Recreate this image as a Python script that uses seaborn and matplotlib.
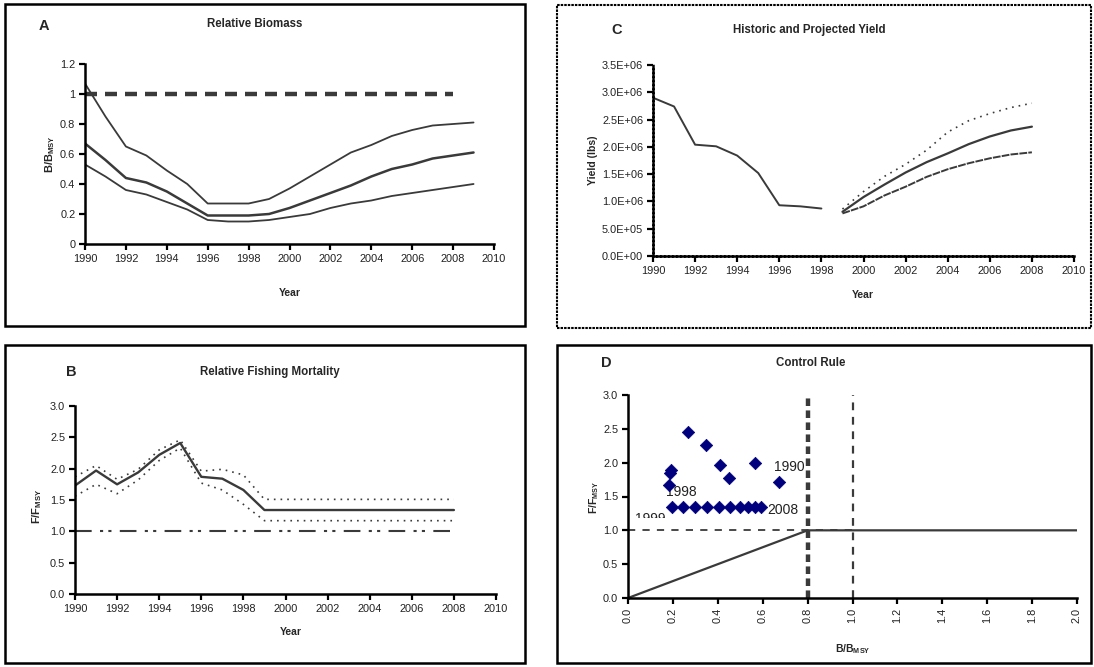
import numpy as np
import pandas as pd
import matplotlib
matplotlib.use("Agg")
import matplotlib.pyplot as plt
import seaborn as sns
from matplotlib.patches import Rectangle
from matplotlib.ticker import FuncFormatter, MultipleLocator

# ---------------- data ----------------
years_a = list(range(1990, 2010))
biomass_upper = [1.07, 0.85, 0.65, 0.59, 0.49, 0.40, 0.27, 0.27, 0.27, 0.30,
                 0.37, 0.45, 0.53, 0.61, 0.66, 0.72, 0.76, 0.79, 0.80, 0.81]
biomass_mid = [0.67, 0.56, 0.44, 0.41, 0.35, 0.27, 0.19, 0.19, 0.19, 0.20,
               0.24, 0.29, 0.34, 0.39, 0.45, 0.50, 0.53, 0.57, 0.59, 0.61]
biomass_lower = [0.53, 0.45, 0.36, 0.33, 0.28, 0.23, 0.16, 0.15, 0.15, 0.16,
                 0.18, 0.20, 0.24, 0.27, 0.29, 0.32, 0.34, 0.36, 0.38, 0.40]
bmsy_ref_years = [1990, 2008]
bmsy_ref = [1.0, 1.0]

years_b = list(range(1990, 2009))
fmort_mid = [1.73, 1.97, 1.75, 1.94, 2.22, 2.41, 1.87, 1.84, 1.66, 1.34,
             1.34, 1.34, 1.34, 1.34, 1.34, 1.34, 1.34, 1.34, 1.34]
fmort_upper = [1.87, 2.05, 1.83, 1.99, 2.30, 2.46, 1.96, 1.99, 1.90, 1.51,
               1.51, 1.51, 1.51, 1.51, 1.51, 1.51, 1.51, 1.51, 1.51]
fmort_lower = [1.56, 1.75, 1.60, 1.82, 2.13, 2.33, 1.77, 1.66, 1.43, 1.17,
               1.17, 1.17, 1.17, 1.17, 1.17, 1.17, 1.17, 1.17, 1.17]
fmsy_ref_years = [1990, 2008]
fmsy_ref = [1.01, 1.01]

years_hist = list(range(1990, 1999))
yield_hist = [2.90e6, 2.74e6, 2.04e6, 2.01e6, 1.84e6, 1.52e6, 0.93e6, 0.91e6, 0.87e6]
years_proj = list(range(1999, 2009))
yield_proj_upper = [0.86e6, 1.18e6, 1.46e6, 1.68e6, 1.94e6, 2.27e6, 2.48e6, 2.61e6, 2.72e6, 2.80e6]
yield_proj_mid = [0.81e6, 1.08e6, 1.31e6, 1.53e6, 1.72e6, 1.88e6, 2.05e6, 2.19e6, 2.30e6, 2.37e6]
yield_proj_lower = [0.78e6, 0.91e6, 1.11e6, 1.27e6, 1.45e6, 1.59e6, 1.70e6, 1.79e6, 1.86e6, 1.90e6]

cr_years = list(range(1990, 2009))
cr_b = [0.672, 0.567, 0.449, 0.409, 0.347, 0.267, 0.190, 0.187, 0.183, 0.198,
        0.246, 0.300, 0.353, 0.404, 0.456, 0.499, 0.536, 0.567, 0.593]
cr_f = [1.72, 2.00, 1.77, 1.97, 2.26, 2.45, 1.89, 1.85, 1.67, 1.35,
        1.35, 1.35, 1.35, 1.35, 1.35, 1.35, 1.35, 1.35, 1.35]
rule_b = [0.0, 0.8, 2.0]
rule_f = [0.0, 1.0, 1.0]
ref_h_b = [0.0, 1.0]
ref_h_f = [1.01, 1.01]
bmsy_frac = 0.8
bmsy_line = 1.0
label_years = ["1990", "1998", "1999", "2008"]
label_b = [0.719, 0.239, 0.099, 0.689]
label_f = [1.94, 1.57, 1.17, 1.30]

# ---------------- style ----------------
sns.set_style("ticks")
plt.rcParams["font.family"] = ["Liberation Sans", "DejaVu Sans"]
plt.rcParams["mathtext.fontset"] = "custom"
plt.rcParams["mathtext.rm"] = "Liberation Sans"
plt.rcParams["mathtext.bf"] = "Liberation Sans:bold"
plt.rcParams["mathtext.it"] = "Liberation Sans:italic"

W, H = 1094, 667
fig = plt.figure(figsize=(W / 100, H / 100), dpi=100)
fig.patch.set_facecolor("white")

LINE = "#3a3a3a"
TICKC = "#222222"


def px_axes(x0, y0, x1, y1):
    return fig.add_axes([x0 / W, 1 - y1 / H, (x1 - x0) / W, (y1 - y0) / H])


def frame(x0, y0, x1, y1, ls="-", lw=1.8):
    fig.add_artist(Rectangle((x0 / W, 1 - y1 / H), (x1 - x0) / W, (y1 - y0) / H,
                             transform=fig.transFigure, fill=False,
                             lw=lw, ec="black", ls=ls))


def ftext(x, y, s, **kw):
    fig.text(x / W, 1 - y / H, s, ha="center", va="center", **kw)


def style_axes(ax, spine_ls="-"):
    for s in ["top", "right"]:
        ax.spines[s].set_visible(False)
    for s in ["left", "bottom"]:
        ax.spines[s].set_linewidth(1.8)
        ax.spines[s].set_color("black")
        ax.spines[s].set_linestyle(spine_ls)
    ax.tick_params(axis="both", direction="out", length=4, width=1.6,
                   color="black", labelsize=7.9, labelcolor=TICKC, pad=3)
    ax.set_facecolor("white")
    ax.grid(False)


# ---------------- Panel A ----------------
frame(5, 4, 525, 326)
axA = px_axes(85, 64, 494, 244)
sns.lineplot(x=years_a, y=biomass_upper, ax=axA, color=LINE, lw=1.3)
sns.lineplot(x=years_a, y=biomass_mid, ax=axA, color=LINE, lw=1.8)
sns.lineplot(x=years_a, y=biomass_lower, ax=axA, color=LINE, lw=1.3)
sns.lineplot(x=bmsy_ref_years, y=bmsy_ref, ax=axA, color=LINE, lw=3.2,
             linestyle=(0, (2.7, 1.8)))
axA.set_xlim(1990, 2010)
axA.set_ylim(0, 1.2)
axA.set_xticks(range(1990, 2011, 2))
axA.set_yticks([0, 0.2, 0.4, 0.6, 0.8, 1.0, 1.2])
axA.set_yticklabels(["0", "0.2", "0.4", "0.6", "0.8", "1", "1.2"])
style_axes(axA)
axA.set_xlabel("")
axA.set_ylabel("")
ftext(44, 26, "A", fontsize=10.5, fontweight="bold")
ftext(255, 24, "Relative Biomass", fontsize=8.3, fontweight="bold")
ftext(290, 293, "Year", fontsize=7.5, fontweight="bold")
fig.text(50 / W, 1 - 154 / H, r"$\mathbf{B/B_{MSY}}$", rotation=90,
         ha="center", va="center", fontsize=8)

# ---------------- Panel C ----------------
frame(557, 5, 1091, 328, ls=(0, (1.2, 0.5)), lw=1.5)
axC = px_axes(653, 65, 1074, 256)
sns.lineplot(x=years_hist, y=yield_hist, ax=axC, color=LINE, lw=1.4)
sns.lineplot(x=years_proj, y=yield_proj_upper, ax=axC, color=LINE, lw=1.2,
             linestyle=(0, (1, 3)))
sns.lineplot(x=years_proj, y=yield_proj_mid, ax=axC, color=LINE, lw=1.6)
sns.lineplot(x=years_proj, y=yield_proj_lower, ax=axC, color=LINE, lw=1.4,
             linestyle=(0, (4, 0.6)))
axC.set_xlim(1990, 2010)
axC.set_ylim(0, 3.5e6)
axC.set_xticks(range(1990, 2011, 2))
axC.yaxis.set_major_locator(MultipleLocator(5e5))
axC.yaxis.set_major_formatter(FuncFormatter(lambda v, p: "{:.1E}".format(v)))
style_axes(axC, spine_ls=(0, (1, 0.6)))
axC.set_xlabel("")
axC.set_ylabel("")
ftext(617, 30, "C", fontsize=10.5, fontweight="bold")
ftext(809, 30, "Historic and Projected Yield", fontsize=8.3, fontweight="bold")
ftext(863, 295, "Year", fontsize=7.5, fontweight="bold")
fig.text(593 / W, 1 - 160 / H, "Yield (lbs)", rotation=90, ha="center",
         va="center", fontsize=7.5, fontweight="bold")

# ---------------- Panel B ----------------
frame(5, 345, 525, 663)
axB = px_axes(75, 406, 496, 594)
sns.lineplot(x=years_b, y=fmort_upper, ax=axB, color=LINE, lw=1.2,
             linestyle=(0, (1, 3)))
sns.lineplot(x=years_b, y=fmort_lower, ax=axB, color=LINE, lw=1.2,
             linestyle=(0, (1, 3)))
sns.lineplot(x=years_b, y=fmort_mid, ax=axB, color=LINE, lw=1.7)
sns.lineplot(x=fmsy_ref_years, y=fmsy_ref, ax=axB, color=LINE, lw=1.5,
             linestyle=(0, (8, 4, 1.5, 2.5, 1.5, 4)))
axB.set_xlim(1990, 2010)
axB.set_ylim(0, 3.0)
axB.set_xticks(range(1990, 2011, 2))
axB.yaxis.set_major_locator(MultipleLocator(0.5))
axB.yaxis.set_major_formatter(FuncFormatter(lambda v, p: "{:.1f}".format(v)))
style_axes(axB)
axB.set_xlabel("")
axB.set_ylabel("")
ftext(71, 372, "B", fontsize=10.5, fontweight="bold")
ftext(270, 372, "Relative Fishing Mortality", fontsize=8.3, fontweight="bold")
ftext(291, 632, "Year", fontsize=7.5, fontweight="bold")
fig.text(37 / W, 1 - 506 / H, r"$\mathbf{F/F_{MSY}}$", rotation=90,
         ha="center", va="center", fontsize=8)

# ---------------- Panel D ----------------
frame(557, 345, 1091, 663)
axD = px_axes(628, 395, 1077, 598)
sns.lineplot(x=rule_b, y=rule_f, ax=axD, color=LINE, lw=1.6)
sns.lineplot(x=ref_h_b, y=ref_h_f, ax=axD, color=LINE, lw=1.3,
             linestyle=(0, (4, 4)))
axD.axvline(bmsy_frac, color=LINE, lw=3.2, linestyle=(0, (1.7, 1.0)))
axD.axvline(bmsy_line, color=LINE, lw=1.6, linestyle=(0, (3.5, 3.0)))
df_cr = pd.DataFrame({"year": cr_years, "B": cr_b, "F": cr_f})
sns.scatterplot(data=df_cr, x="B", y="F", ax=axD, marker="D", s=40,
                color="#00007f", edgecolor="#00007f", linewidth=0.5, zorder=5)
for yr, bx, fy in zip(label_years, label_b, label_f):
    t = axD.text(bx, fy, yr, ha="center", va="center", fontsize=10,
                 color="#222222")
    if yr == "1999":
        t.set_clip_path(Rectangle((0, 1.18), 2.0, 2.0, transform=axD.transData))
        t.set_clip_on(True)
axD.set_xlim(0, 2.0)
axD.set_ylim(0, 3.0)
axD.xaxis.set_major_locator(MultipleLocator(0.2))
axD.yaxis.set_major_locator(MultipleLocator(0.5))
fmt1 = FuncFormatter(lambda v, p: "{:.1f}".format(v))
axD.xaxis.set_major_formatter(fmt1)
axD.yaxis.set_major_formatter(fmt1)
style_axes(axD)
for lab in axD.get_xticklabels():
    lab.set_rotation(90)
axD.set_xlabel("")
axD.set_ylabel("")
ftext(606, 363, "D", fontsize=10.5, fontweight="bold")
ftext(811, 363, "Control Rule", fontsize=8.3, fontweight="bold")
ftext(853, 649, r"$\mathbf{B/B_{MSY}}$", fontsize=7.5)
fig.text(594 / W, 1 - 497 / H, r"$\mathbf{F/F_{MSY}}$", rotation=90,
         ha="center", va="center", fontsize=7.5)

fig.savefig("out.png", dpi=100, facecolor="white")
